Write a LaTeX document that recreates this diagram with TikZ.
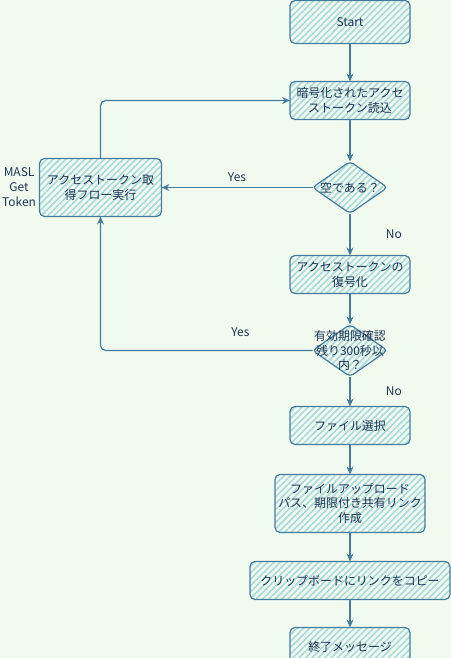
\documentclass[tikz,border=0pt]{standalone}
\usepackage{fontspec}
\setmainfont{Noto Sans CJK JP}
\usepackage{tikz}
\usetikzlibrary{arrows.meta, shapes.geometric, patterns.meta, positioning}

\definecolor{bgcol}{HTML}{F1FAEE}
\definecolor{linecol}{HTML}{457B9D}
\definecolor{hatch}{HTML}{A8DADC}
\definecolor{txt}{HTML}{1D3557}

\begin{document}
\begin{tikzpicture}[x=1bp,y=-1bp,
         every node/.style={font=\fontsize{12}{15}\selectfont, text=txt},
         box/.style={rectangle, rounded corners=5bp, draw=linecol, line width=1.2bp, align=center, inner sep=2bp, outer sep=0pt,
           minimum width=120bp, minimum height=38bp, pattern={Lines[angle=45,distance=4.5bp,line width=1.6bp]}, pattern color=hatch},
         decision/.style={diamond, draw=linecol, line width=1.2bp, inner sep=0pt, outer sep=0pt, minimum width=75bp, minimum height=52bp,
           rounded corners=4bp, pattern={Lines[angle=45,distance=4.5bp,line width=1.6bp]}, pattern color=hatch},
         flow/.style={draw=linecol, line width=1.2bp, rounded corners=5bp, -{Stealth[open,length=8bp,width=7bp]}}]

       \fill[bgcol] (0,0) rectangle (451,658); % page background
       \useasboundingbox (0,0) rectangle (451,658);

       \node[box, minimum height=43bp] (start) at (350,22) {Start};
       \node[box] (read) [below=38bp of start] {暗号化されたアクセ\\ストークン読込};
       \node[decision, label={[align=center]center:空である？}] (empty) [below=42bp of read] {};
       \node[box] (decode) [below=42bp of empty] {アクセストークンの\\復号化};
       \node[decision, label={[align=center]center:有効期限確認\\残り300秒以\\内？}] (valid) [below=31bp of decode] {};
       \node[box] (file) [below=30bp of valid] {ファイル選択};
       \node[box, minimum width=150bp, minimum height=58bp] (upload) [below=30bp of file] {ファイルアップロード\\パス、期限付き共有リンク\\作成};
       \node[box, minimum width=200bp] (clip) [below=29bp of upload] {クリップボードにリンクをコピー};
       \node[box] (finish) [below=28bp of clip] {終了メッセージ};
       \node[box, minimum width=122bp, minimum height=58bp] (acquire) [left=151bp of empty] {アクセストークン取\\得フロー実行};
       \node[align=center] (masl) [left=0bp of acquire] {MASL\\Get\\Token};

       \foreach \s/\t in {start/read, read/empty, decode/valid, file/upload, upload/clip, clip/finish} {
        \path[flow] (\s) -- (\t);}
       \path[flow] (empty) -- node[midway, right=32bp] {No} (decode);
       \path[flow] (valid) -- node[midway, right=32bp] {No} (file);
       \path[flow] (empty.west) -- node[midway, above=2bp] {Yes} (acquire.east);
       \path[flow] (valid.west) -| node[pos=0.17, above=10bp] {Yes} (acquire.south);
       \path[flow] (acquire.north) |- (read.west);
      \end{tikzpicture}
\end{document}
